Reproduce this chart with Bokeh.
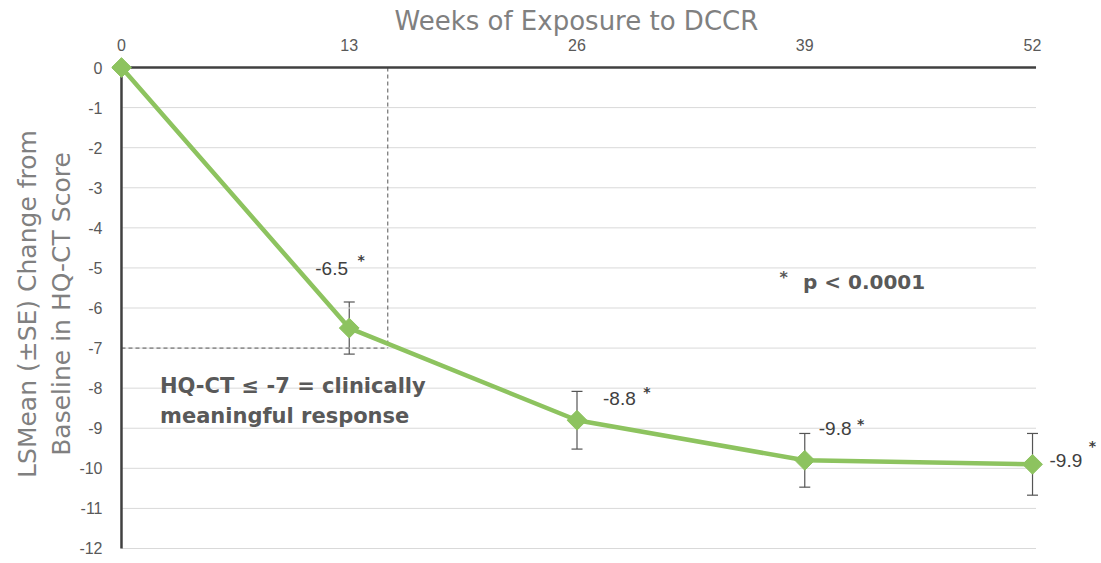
from bokeh.plotting import figure
from bokeh.models import Range1d, FixedTicker, Label, Whisker, ColumnDataSource, TeeHead, Title
from bokeh.embed import file_html
from bokeh.resources import INLINE

# ---- data ----
weeks = [0, 13, 26, 39, 52]
lsmean = [0.0, -6.5, -8.8, -9.8, -9.9]
se = [0.0, 0.65, 0.72, 0.67, 0.77]
y_ticks = [0, -1, -2, -3, -4, -5, -6, -7, -8, -9, -10, -11, -12]
threshold = -7
threshold_week = 15.2
x_title = "Weeks of Exposure to DCCR"
y_title = "LSMean (\u00b1SE) Change from\nBaseline in HQ-CT Score"
note_text = "p < 0.0001"
response_lines = ["HQ-CT \u2264 -7 = clinically", "meaningful response"]

# ---- styles ----
GREEN = "#8DC35F"
DARK = "#404040"
GRID = "#d9d9d9"
TICK_C = "#595959"
TITLE_C = "#808080"
x_end = 52.2

p = figure(width=1100, height=562,
           x_range=Range1d(-0.57, 55.88), y_range=Range1d(-12.15, 0.35),
           x_axis_location="above", output_backend="svg", toolbar_location=None,
           min_border_left=111, min_border_right=0, min_border_top=53, min_border_bottom=8)
p.outline_line_color = None
p.xgrid.visible = False
p.ygrid.visible = False

p.add_layout(Title(text=x_title, text_font="DejaVu Sans", text_font_size="26px",
                   text_font_style="normal", text_color=TITLE_C, align="left",
                   offset=283, standoff=0), "above")

# axes
p.xaxis.ticker = FixedTicker(ticks=weeks)
p.yaxis.ticker = FixedTicker(ticks=y_ticks)
p.yaxis.major_label_overrides = {t: str(t) for t in y_ticks}
for ax in (p.xaxis[0], p.yaxis[0]):
    ax.axis_line_color = None
    ax.major_tick_line_color = None
    ax.minor_tick_line_color = None
    ax.major_label_text_font = "Liberation Sans"
    ax.major_label_text_font_size = "16px"
    ax.major_label_text_color = TICK_C
p.xaxis.major_label_standoff = -3
p.yaxis.major_label_standoff = 3
p.yaxis.axis_label = y_title
p.yaxis.axis_label_text_font = "DejaVu Sans"
p.yaxis.axis_label_text_font_style = "normal"
p.yaxis.axis_label_text_font_size = "25px"
p.yaxis.axis_label_text_color = TITLE_C
p.yaxis.axis_label_standoff = 0

# gridlines (from 0 to end of axis)
grid_y = [t for t in y_ticks if t != 0]
p.segment(x0=[weeks[0]] * len(grid_y), x1=[x_end] * len(grid_y), y0=grid_y, y1=grid_y,
          line_color=GRID, line_width=1)

# dashed threshold lines
p.segment(x0=[weeks[0], threshold_week], x1=[threshold_week, threshold_week],
          y0=[threshold, 0], y1=[threshold, threshold],
          line_color="#555555", line_width=1, line_dash="4 3")

# axis lines
p.segment(x0=[weeks[0]], x1=[x_end], y0=[0], y1=[0], line_color=DARK, line_width=2.5)
p.segment(x0=[weeks[0]], x1=[weeks[0]], y0=[0], y1=[y_ticks[-1]], line_color=DARK, line_width=2.5)

# error bars
src_err = ColumnDataSource(dict(x=weeks[1:], upper=[m + s for m, s in zip(lsmean[1:], se[1:])],
                                lower=[m - s for m, s in zip(lsmean[1:], se[1:])]))
wh = Whisker(base="x", upper="upper", lower="lower", source=src_err, dimension="height",
             line_color="#555555", line_width=1.2,
             upper_head=TeeHead(size=11, line_color="#555555", line_width=1.2),
             lower_head=TeeHead(size=11, line_color="#555555", line_width=1.2))
p.add_layout(wh)

# series
p.line(weeks, lsmean, line_color=GREEN, line_width=4.5)
p.scatter(weeks, lsmean, marker="square", angle=0.785398, size=14, fill_color=GREEN, line_color=GREEN)

# value labels with significance stars
text_off = [(-34, 60), (26, 22), (14, 32), (17, 4)]
star_off = [(12, 68), (70, 28), (56, 36), (60, 18)]
for w, m, to, so in zip(weeks[1:], lsmean[1:], text_off, star_off):
    p.add_layout(Label(x=w, y=m, x_offset=to[0], y_offset=to[1], text=f"{m}",
                       text_font="Liberation Sans", text_font_size="19px",
                       text_color="#404040", text_align="left", text_baseline="middle"))
    p.add_layout(Label(x=w, y=m, x_offset=so[0], y_offset=so[1], text="*",
                       text_font="DejaVu Sans", text_font_size="14px", text_font_style="bold",
                       text_color="#404040", text_align="center", text_baseline="middle"))

# p-value note
p.add_layout(Label(x=37.8, y=-5.25, text="*", text_font="DejaVu Sans", text_font_size="16px",
                   text_font_style="bold", text_color="#595959", text_align="center", text_baseline="middle"))
p.add_layout(Label(x=38.9, y=-5.35, text=note_text, text_font="DejaVu Sans", text_font_size="20px",
                   text_font_style="bold", text_color="#595959", text_align="left", text_baseline="middle"))

# clinically meaningful response note
for i, line in enumerate(response_lines):
    p.add_layout(Label(x=2.2, y=-7.95 - 0.75 * i, text=line, text_font="DejaVu Sans",
                       text_font_size="21px", text_font_style="bold", text_color="#595959",
                       text_align="left", text_baseline="middle"))

open("out.html", "w").write(file_html(p, INLINE))
